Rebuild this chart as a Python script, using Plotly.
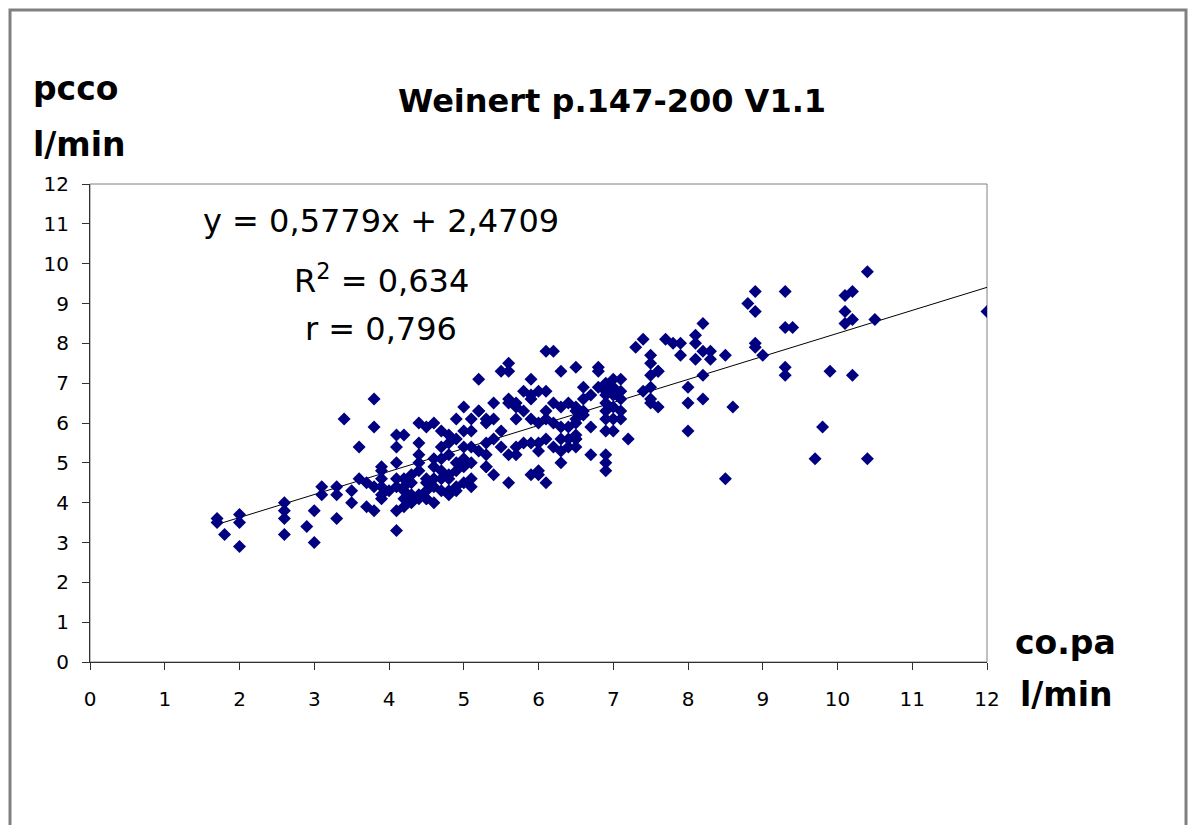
import plotly.graph_objects as go

# ---- data (co.pa l/min, pcco l/min) ----
co_pa = [
    1.7, 1.7, 1.8, 2.0, 2.0, 2.0,
    2.6, 2.6, 2.6, 2.6, 2.9, 3.0, 3.0,
    3.1, 3.1, 3.3, 3.3, 3.3, 3.4, 3.5, 3.5,
    3.6, 3.6, 3.7, 3.7, 3.8, 3.8, 3.8, 3.8,
    3.9, 3.9, 3.9, 3.9, 3.9, 3.9, 4.0,
    4.1, 4.1, 4.1, 4.1, 4.1, 4.1, 4.1,
    5.0, 4.9, 4.4, 4.6, 4.5, 4.2, 4.7, 4.8, 5.1, 5.2, 5.3, 5.0, 5.1,
    4.4, 4.7, 4.8, 4.9, 5.0, 5.1, 5.2, 4.4, 4.4, 4.6, 4.7, 4.8,
    4.9, 5.0, 5.0, 5.1, 5.3, 4.6, 4.7, 4.8, 4.9,
    4.2, 4.3, 4.2, 4.5, 4.5, 4.6, 4.7, 4.8, 5.1, 5.0, 5.1,
    4.2, 4.3, 4.4, 4.5, 4.5, 4.8, 4.9, 4.8, 4.2, 4.4, 4.5,
    4.3, 4.6, 4.2, 4.3, 4.7, 4.9, 4.4, 4.6,
    5.2, 5.4, 5.5, 5.6, 5.6, 5.9, 6.1, 6.2, 6.3, 6.5,
    5.8, 5.9, 6.0, 6.1, 5.6, 5.7, 5.7, 5.6, 5.9,
    6.2, 6.3, 6.4, 6.5, 5.2, 5.3, 5.4, 5.7, 5.9, 5.8,
    6.1, 6.1, 6.0, 6.2, 6.3, 6.4, 6.5, 5.5, 5.4,
    5.3, 5.3, 5.3, 5.5, 5.6, 5.7, 5.7, 5.8, 5.9, 6.0, 6.0, 6.1,
    6.2, 6.3, 6.4, 6.5, 6.3, 6.4, 6.5, 6.3,
    5.4, 5.6, 5.9, 6.0, 6.1, 6.0, 6.7,
    7.4, 7.3, 7.7, 7.8, 7.9, 7.5, 7.5, 7.6, 7.5,
    6.8, 6.8, 6.6, 6.6, 6.7,
    6.8, 6.9, 6.9, 7.0, 7.0, 7.1, 7.1, 7.0, 7.1, 6.9, 6.9, 7.0,
    7.1, 7.1, 7.0, 6.9, 6.9,
    7.4, 7.5, 7.5, 7.5, 7.6,
    6.5, 6.6, 6.5, 6.5, 6.6, 6.5, 6.7, 6.9, 7.0, 7.2,
    6.9, 6.9, 6.9,
    8.8, 8.9, 8.2, 7.9, 8.1, 8.1, 8.2, 8.3, 8.3, 8.1, 8.5,
    8.9, 8.9, 9.0, 8.2, 7.6, 8.0, 8.0, 8.2, 8.6, 8.0, 8.5,
    10.4, 8.9, 9.3, 10.1, 10.2, 10.1, 10.1, 10.2, 10.5, 12.0,
    9.3, 9.4, 9.3, 9.3, 9.9, 10.2, 9.8, 9.7, 10.4,
]
pcco = [
    3.6, 3.5, 3.2, 3.7, 3.5, 2.9,
    4.0, 3.8, 3.6, 3.2, 3.4, 3.0, 3.8,
    4.4, 4.2, 4.4, 4.2, 3.6, 6.1, 4.3, 4.0,
    5.4, 4.6, 4.5, 3.9, 6.6, 5.9, 4.4, 3.8,
    4.9, 4.8, 4.6, 4.1, 4.4, 4.2, 4.3,
    5.7, 5.4, 5.0, 4.6, 4.4, 3.8, 3.3,
    6.4, 6.1, 6.0, 6.0, 5.9, 5.7, 5.8, 5.7, 6.1, 6.3, 6.0, 5.8, 5.8,
    5.5, 5.4, 5.5, 5.6, 5.4, 5.4, 5.3, 5.2, 5.0, 5.1, 5.1, 5.2,
    5.0, 5.1, 4.9, 5.0, 4.9, 4.9, 4.8, 4.7, 4.8,
    4.6, 4.5, 4.4, 4.5, 4.6, 4.6, 4.6, 4.6, 4.6, 4.5, 4.4,
    4.1, 4.2, 4.2, 4.3, 4.1, 4.3, 4.3, 4.2, 3.9, 4.1, 4.1,
    4.0, 4.4, 4.3, 4.7, 4.3, 4.4, 4.8, 4.0,
    7.1, 6.5, 7.3, 7.5, 7.3, 7.1, 7.8, 7.8, 7.3, 7.4,
    6.8, 6.7, 6.8, 6.8, 6.6, 6.5, 6.4, 6.5, 6.6,
    6.5, 6.4, 6.5, 6.4, 6.3, 6.1, 6.1, 6.1, 6.1, 6.3,
    6.3, 6.1, 6.0, 6.0, 5.9, 5.9, 5.6, 5.8, 5.6,
    5.5, 5.2, 4.9, 5.4, 5.2, 5.4, 5.2, 5.5, 5.5, 5.5, 5.3, 5.6,
    5.4, 5.6, 5.6, 5.6, 5.3, 5.4, 5.4, 5.0,
    4.7, 4.5, 4.7, 4.8, 4.5, 4.7, 5.2,
    8.1, 7.9, 8.1, 8.0, 7.7, 7.7, 7.5, 7.3, 7.2,
    7.4, 7.3, 6.9, 6.6, 6.7,
    6.9, 7.0, 6.8, 6.9, 7.1, 7.1, 6.8, 6.7, 6.6, 6.7, 6.5, 6.4,
    6.3, 6.1, 6.1, 6.3, 6.1,
    6.8, 6.9, 6.6, 6.5, 6.4,
    6.3, 6.3, 6.0, 5.7, 6.2, 6.1, 5.9, 5.8, 5.8, 5.6,
    5.2, 5.0, 4.8,
    9.0, 8.8, 8.5, 8.0, 8.2, 8.0, 7.8, 7.8, 7.6, 7.6, 7.7,
    8.0, 7.9, 7.7, 7.2, 7.3, 6.9, 6.5, 6.6, 6.4, 5.8, 4.6,
    9.8, 9.3, 9.3, 9.2, 9.3, 8.8, 8.5, 8.6, 8.6, 8.8,
    8.4, 8.4, 7.4, 7.2, 7.3, 7.2, 5.9, 5.1, 5.1,
]

slope = 0.5779
intercept = 2.4709
eq_lines = ["y = 0,5779x + 2,4709", "R<sup>2</sup> = 0,634", "r = 0,796"]
x_ticks = list(range(0, 13))
y_ticks = list(range(0, 13))

title_text = "Weinert p.147-200 V1.1"

# ---- layout geometry (pixels) ----
W, H = 1193, 825
L, R, T, B = 90, 987, 184, 662
pw, ph = R - L, B - T


def px(x):
    return (x - L) / pw


def py(y):
    return (B - y) / ph


FONT = "DejaVu Sans"
NAVY = "#000080"
AXIS = "#303030"

fig = go.Figure()

xmin, xmax = min(co_pa), max(co_pa)
fig.add_trace(go.Scatter(
    x=[xmin, xmax], y=[slope * xmin + intercept, slope * xmax + intercept],
    mode="lines", line=dict(color="black", width=1), hoverinfo="skip",
    showlegend=False,
))
fig.add_trace(go.Scatter(
    x=co_pa, y=pcco, mode="markers",
    marker=dict(symbol="diamond", size=10, color=NAVY, line=dict(width=0)),
    showlegend=False,
))

axis_common = dict(
    range=[0, 12], showgrid=False, zeroline=False, showline=True,
    linecolor=AXIS, linewidth=1, ticks="outside", ticklen=7,
    tickcolor=AXIS, tickwidth=1,
    tickfont=dict(family=FONT, size=20, color="black"),
)
fig.update_xaxes(**axis_common, tickvals=x_ticks, ticktext=[str(v) for v in x_ticks],
                 ticklabelstandoff=12)
fig.update_yaxes(**axis_common, tickvals=y_ticks, ticktext=[str(v) for v in y_ticks],
                 ticklabelstandoff=9)

shapes = [
    # plot area border
    dict(type="rect", xref="paper", yref="paper", x0=0, x1=1, y0=0, y1=1,
         line=dict(color="#808080", width=1), layer="below"),
    # outer frame
    dict(type="rect", xref="paper", yref="paper",
         x0=px(10), x1=px(1186), y0=py(10), y1=py(840),
         line=dict(color="#808080", width=3), layer="below"),
]

annotations = []


def add_text(text, x, y, size, bold=False, xanchor="center"):
    annotations.append(dict(
        text=f"<b>{text}</b>" if bold else text,
        xref="paper", yref="paper", x=px(x), y=py(y),
        xanchor=xanchor, yanchor="middle", showarrow=False,
        font=dict(family=FONT, size=size, color="black"),
    ))


add_text(title_text, 612, 101, 32, bold=True)
add_text("pcco", 31, 89, 33, bold=True, xanchor="left")
add_text("l/min", 31, 144, 33, bold=True, xanchor="left")
add_text("co.pa", 1065, 642, 33, bold=True)
add_text("l/min", 1066, 694, 33, bold=True)
add_text(eq_lines[0], 381, 221, 32)
add_text(eq_lines[1], 381, 279, 32)
add_text(eq_lines[2], 381, 329, 32)

fig.update_layout(
    width=W, height=H,
    margin=dict(l=L, r=W - R, t=T, b=H - B, pad=0),
    paper_bgcolor="white", plot_bgcolor="white",
    shapes=shapes, annotations=annotations,
    showlegend=False,
)

fig.write_html("out.html")
